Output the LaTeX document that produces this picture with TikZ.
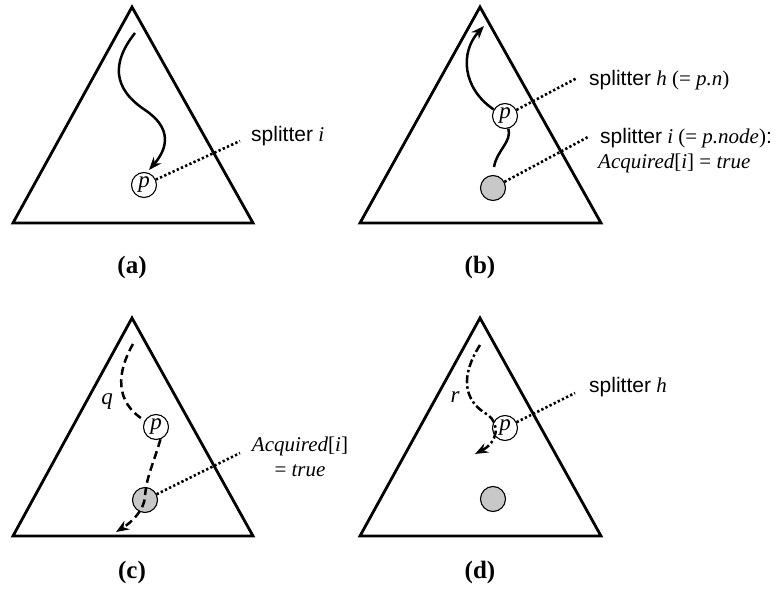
\documentclass[tikz,border=0pt]{standalone}
\usepackage{fontspec}
\setmainfont{Liberation Serif}
\newfontfamily\sansf{Liberation Sans}
\usetikzlibrary{arrows.meta}
\newcommand\vmi[1]{{\rmfamily\itshape #1}}
\definecolor{gfill}{RGB}{200,200,200}
\begin{document}
\begin{tikzpicture}[x=1pt,y=-1pt,
  tri/.style={line width=2.8pt, line join=miter},
  curvel/.style={line width=2.5pt},
  arr/.style={-{Stealth[length=13pt,width=10pt]}},
  dotl/.style={line width=2.6pt, dash pattern=on 2.3pt off 2.3pt},
  dashl/.style={dash pattern=on 8pt off 4.5pt},
  dashdotl/.style={dash pattern=on 8pt off 3pt on 2.5pt off 3pt},
  pnode/.style={circle, draw, line width=1.1pt, fill=white, minimum size=25pt, inner sep=0pt, font=\fontsize{23}{23}\selectfont\itshape},
  gnode/.style={circle, draw, line width=1.1pt, fill=gfill, minimum size=25pt, inner sep=0pt},
  lab/.style={anchor=west, inner sep=0pt, font=\fontsize{21}{25}\selectfont},
  vlab/.style={inner sep=0pt, font=\fontsize{23}{23}\selectfont\itshape},
  capt/.style={font=\fontsize{25}{25}\selectfont\bfseries, inner sep=0pt}
]
\useasboundingbox (0,0) rectangle (777,594);

% ---------- (a)
\draw[tri] (132,7) -- (253,223) -- (13,223) -- cycle;
\node[pnode] (pa) at (144,185) {p};
\coordinate (a0) at (135,33);
\coordinate (a1) at (149,170);
\draw[curvel,arr] (a0) .. controls (112,62) and (112,88) .. (145,110) .. controls (172,128) and (168,148) .. (a1);
\node[lab] (sa) at (251,136) {{\sansf splitter} \vmi{i}};
\coordinate (da) at (240,141);
\draw[dotl] (pa) -- (da);
\node[capt] (la) at (132,267) {(a)};

% ---------- (b)
\draw[tri] (480,7) -- (601,223) -- (360,223) -- cycle;
\node[pnode] (pb) at (505,116) {p};
\node[gnode] (gb) at (493,188) {};
\coordinate (b0) at (494,167);
\coordinate (b1) at (484,26);
\draw[curvel] (b0) .. controls (497,150) and (512,142) .. (pb.-75);
\draw[curvel,arr] (pb.150) .. controls (462,88) and (460,52) .. (b1);
\coordinate (db1) at (577,78);
\coordinate (db2) at (588,137);
\draw[dotl] (pb) -- (db1);
\draw[dotl] (gb) -- (db2);
\node[lab] (sh) at (589,80) {{\sansf splitter} \vmi{h} (= \vmi{p.n})};
\node[lab] (si) at (600,138) {{\sansf splitter} \vmi{i} (= \vmi{p.node}){\sansf :}};
\node[lab] (ai) at (598,163) {\vmi{Acquired}[\vmi{i}] = \vmi{true}};
\node[capt] (lb) at (480,267) {(b)};

% ---------- (c)
\draw[tri] (132,318) -- (253,536) -- (13,536) -- cycle;
\node[pnode] (pc) at (156,427) {p};
\node[gnode] (gc) at (145,500) {};
\coordinate (c0) at (133,344);
\coordinate (c1) at (116,532);
\draw[curvel,dashl] (c0) .. controls (117,372) and (114,402) .. (pc.150);
\draw[curvel,dashl,arr] (pc.-70) .. controls (153,465) and (146,478) .. (145,497) .. controls (144,510) and (132,522) .. (c1);
\node[vlab] (q) at (107,402) {q};
\coordinate (dc) at (240,453);
\draw[dotl] (gc) -- (dc);
\node[lab, anchor=center, align=center] (ac) at (300,457) {\vmi{Acquired}[\vmi{i}]\\= \vmi{true}};
\node[capt] (lc) at (132,572) {(c)};

% ---------- (d)
\draw[tri] (480,318) -- (601,536) -- (360,536) -- cycle;
\node[pnode] (pd) at (505,428) {p};
\node[gnode] (gd) at (493,499) {};
\coordinate (d0) at (480,345);
\coordinate (d1) at (475,454);
\draw[curvel,dashdotl,arr] (d0) .. controls (461,375) and (462,400) .. (488,415) .. controls (500,424) and (498,442) .. (d1);
\node[vlab] (r) at (455,397) {r};
\coordinate (dd) at (575,393);
\draw[dotl] (pd) -- (dd);
\node[lab] (sd) at (589,387) {{\sansf splitter} \vmi{h}};
\node[capt] (ld) at (480,572) {(d)};
\end{tikzpicture}
\end{document}
